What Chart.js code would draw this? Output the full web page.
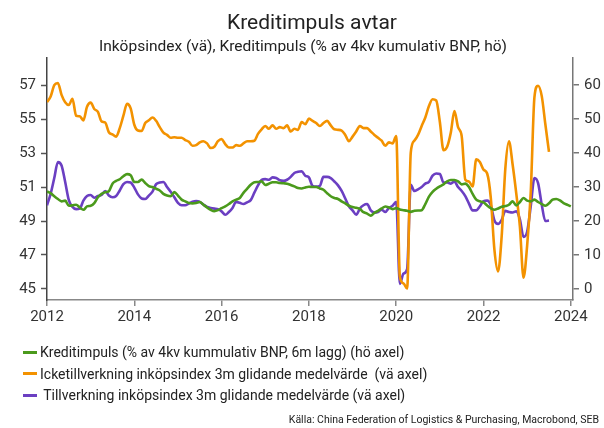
<!DOCTYPE html>
<html>
<head>
<meta charset="utf-8">
<script src="https://cdn.jsdelivr.net/npm/chart.js@4.4.0/dist/chart.umd.min.js"></script>
<style>
  body { margin: 0; background: #fff; font-family: Roboto, sans-serif; color: #222; }
  #wrap { position: relative; width: 604px; height: 428px; }
  #c { position: absolute; left: 0; top: 0; }
  .title { position: absolute; top: 9px; left: 312px; transform: translateX(-50%); font-size: 21px; line-height: 26px; white-space: nowrap; }
  .subtitle { position: absolute; top: 37px; left: 303px; transform: translateX(-50%); font-size: 15.5px; line-height: 18px; white-space: nowrap; }
  .legend { position: absolute; left: 23px; top: 342px; font-size: 14px; }
  .legend div { height: 21.6px; line-height: 21px; white-space: pre; }
  .legend span { display: inline-block; width: 14px; height: 3px; vertical-align: middle; margin-right: 3px; position: relative; top: -1px; }
  .source { position: absolute; right: 5px; top: 413px; font-size: 10.5px; line-height: 13px; white-space: nowrap; }
</style>
</head>
<body>
<div id="wrap">
  <canvas id="c" width="604" height="428"></canvas>
  <div class="title">Kreditimpuls avtar</div>
  <div class="subtitle">Inköpsindex (vä), Kreditimpuls (% av 4kv kumulativ BNP, hö)</div>
  <div class="legend" id="legend"></div>
  <div class="source">Källa: China Federation of Logistics &amp; Purchasing, Macrobond, SEB</div>
</div>
<script>
// monthly, first value = Jan 2012
const startYear = 2012;

const seriesNames = [
    'Kreditimpuls (% av 4kv kummulativ BNP, 6m lagg) (hö axel)',
    'Icketillverkning inköpsindex 3m glidande medelvärde  (vä axel)',
    ' Tillverkning inköpsindex 3m glidande medelvärde (vä axel)'
];
const seriesColors = ['#4b9a1c', '#f39200', '#6b3fc2'];

// Kreditimpuls, right axis
const kreditimpuls = [
    28.7, 28.2, 27.3, 26.5, 25.8, 26.0, 24.5, 24.6, 24.8, 24.0, 23.3, 24.3,
    24.5, 25.3, 27.0, 28.0, 28.5, 28.8, 31.0, 31.8, 32.3, 33.2, 33.8, 33.5,
    31.5, 31.5, 32.2, 31.2, 30.3, 30.0, 29.5, 29.0, 28.0, 27.5, 27.3, 28.5,
    27.5, 26.3, 25.8, 25.3, 25.2, 25.3, 25.6, 24.8, 24.0, 23.3, 22.9, 23.2,
    23.8, 24.3, 25.0, 25.8, 26.3, 26.8, 28.3, 29.5, 30.7, 31.4, 31.5, 31.7,
    30.6, 31.0, 31.4, 31.4, 31.2, 31.1, 31.0, 30.6, 30.2, 29.7, 29.6, 29.9,
    30.1, 30.0, 30.0, 29.6, 29.2, 28.2, 27.3, 26.8, 26.5, 25.8, 25.2, 24.5,
    24.1, 23.9, 23.6, 22.6, 22.2, 21.6, 22.4, 23.0, 23.7, 24.3, 24.0, 23.5,
    23.8, 23.4, 23.2, 23.0, 22.7, 23.0, 23.1, 23.2, 25.0, 27.2, 28.6, 29.5,
    30.2, 30.8, 31.7, 32.1, 32.1, 31.7, 30.8, 31.0, 30.0, 28.0, 26.3, 25.8,
    25.5, 24.6, 23.8, 23.3, 23.7, 24.2, 24.4, 24.8, 25.8, 24.6, 25.6, 26.8,
    26.0, 25.8, 26.3, 25.6, 25.0, 24.5, 25.2, 26.3, 26.5, 26.1, 25.3, 24.8,
    24.3
];

// Icketillverkning PMI 3m avg, left axis
const icketillverkning = [
    56.0, 56.33, 57.0, 57.13, 56.43, 56.0, 55.83, 56.2, 55.2, 55.17, 54.93, 55.73,
    55.97, 55.6, 55.43, 54.87, 54.8, 54.23, 54.1, 53.97, 54.47, 55.2, 55.9, 55.63,
    54.67, 54.33, 54.3, 54.77, 54.93, 55.1, 54.9, 54.53, 54.2, 54.07, 53.9, 53.93,
    53.9, 53.9, 53.77, 53.67, 53.43, 53.47, 53.63, 53.7, 53.57, 53.3, 53.37, 53.7,
    53.83, 53.53, 53.33, 53.33, 53.47, 53.43, 53.57, 53.7, 53.7, 53.73, 54.13, 54.4,
    54.6, 54.43, 54.63, 54.43, 54.53, 54.47, 54.63, 54.27, 54.43, 54.37, 54.83, 54.7,
    55.03, 54.9, 54.77, 54.6, 54.77, 54.9, 54.63, 54.4, 54.37, 54.33, 54.07, 53.7,
    53.97, 54.27, 54.6, 54.47, 54.47, 54.27, 54.07, 53.9, 53.73, 53.43, 53.63, 53.57,
    54.0, 45.73, 45.33, 45.03, 53.03, 53.73, 54.07, 54.6, 55.1, 55.77, 56.17, 56.1,
    54.83, 53.17, 53.37, 54.2, 55.47, 54.53, 54.0, 51.43, 51.33, 51.03, 52.63, 52.47,
    52.03, 51.8, 50.37, 47.3, 46.03, 48.13, 52.1, 53.7, 52.33, 50.63, 48.67, 45.67,
    47.57, 50.77, 56.3, 56.97, 56.37, 54.7, 53.07
];

// Tillverkning PMI 3m avg, left axis
const tillverkning = [
    49.93, 50.6, 51.53, 52.47, 52.27, 51.3, 50.23, 49.83, 49.7, 49.73, 50.2, 50.47,
    50.53, 50.37, 50.47, 50.53, 50.77, 50.5, 50.4, 50.47, 50.8, 51.17, 51.3, 51.27,
    50.97, 50.57, 50.33, 50.3, 50.5, 50.73, 51.17, 51.27, 51.3, 51.0, 50.73, 50.4,
    50.07, 49.93, 49.93, 50.03, 50.13, 50.17, 50.13, 49.97, 49.83, 49.77, 49.73, 49.7,
    49.57, 49.37, 49.53, 49.77, 50.13, 50.07, 50.0, 50.1, 50.23, 50.67, 51.1, 51.43,
    51.47, 51.43, 51.57, 51.53, 51.4, 51.37, 51.43, 51.6, 51.83, 51.9, 51.93, 51.67,
    51.57, 51.07, 51.03, 51.07, 51.6, 51.6, 51.53, 51.33, 51.1, 50.77, 50.33, 49.87,
    49.63, 49.37, 49.73, 49.93, 50.0, 49.63, 49.5, 49.53, 49.67, 49.53, 49.77, 49.9,
    50.13, 45.3, 45.9, 46.17, 51.13, 50.77, 50.87, 51.0, 51.2, 51.3, 51.67, 51.8,
    51.77, 51.27, 51.27, 51.2, 51.33, 51.0, 50.77, 50.47, 50.03, 49.63, 49.63, 49.87,
    50.17, 50.2, 49.93, 49.03, 48.83, 49.07, 49.6, 49.53, 49.5, 49.57, 49.1, 48.07,
    48.37, 49.9, 51.53, 51.23, 49.97, 49.0, 49.03
];

const xTicks = [2012, 2014, 2016, 2018, 2020, 2022, 2024];
const leftTicks = [45, 46, 47, 48, 49, 50, 51, 52, 53, 54, 55, 56, 57, 58];
const leftLabels = [45, 47, 49, 51, 53, 55, 57];
const rightTicks = [0, 5, 10, 15, 20, 25, 30, 35, 40, 45, 50, 55, 60, 65];
const rightLabels = [0, 10, 20, 30, 40, 50, 60];

function monthly(arr) {
    return arr.map((v, i) => ({ x: startYear + i / 12, y: v }));
}

Chart.defaults.font.family = 'Roboto';
Chart.defaults.font.size = 15;
Chart.defaults.color = '#333';

const datasets = [kreditimpuls, icketillverkning, tillverkning].map((arr, i) => ({
    label: seriesNames[i],
    data: monthly(arr),
    yAxisID: i === 0 ? 'y2' : 'y',
    borderColor: seriesColors[i],
    backgroundColor: seriesColors[i],
    borderWidth: 2.6,
    pointRadius: 0,
    cubicInterpolationMode: 'monotone'
}));

const ctx = document.getElementById('c').getContext('2d');
const chart = new Chart(ctx, {
    type: 'line',
    data: { datasets: datasets },
    options: {
        responsive: false,
        animation: false,
        layout: { padding: { top: 58, bottom: 98, left: 0, right: 0 } },
        plugins: {
            legend: { display: false },
            tooltip: { enabled: false }
        },
        scales: {
            x: {
                type: 'linear',
                min: 2012,
                max: 2024.05,
                afterBuildTicks: (s) => { s.ticks = xTicks.map(v => ({ value: v })); },
                afterFit: (s) => { s.height = 30; },
                ticks: { padding: 2, maxRotation: 0, callback: (v) => String(v) },
                grid: { drawOnChartArea: false, tickLength: 6, color: '#888', lineWidth: 1.5 },
                border: { color: '#888', width: 1.5 }
            },
            y: {
                position: 'left',
                min: 44.35,
                max: 58.6,
                afterBuildTicks: (s) => { s.ticks = leftTicks.map(v => ({ value: v })); },
                afterFit: (s) => { s.width = 47; },
                ticks: { padding: 5, callback: (v) => leftLabels.includes(v) ? String(v) : '' },
                grid: {
                    tickLength: 6,
                    tickColor: '#555',
                    tickWidth: 1.5,
                    color: (c) => c.tick && c.tick.value === 50 ? '#333' : 'rgba(0,0,0,0)',
                    lineWidth: 1
                },
                border: { color: '#444', width: 1.5 }
            },
            y2: {
                position: 'right',
                min: -3.25,
                max: 68,
                afterBuildTicks: (s) => { s.ticks = rightTicks.map(v => ({ value: v })); },
                afterFit: (s) => { s.width = 31; },
                ticks: { padding: 5, callback: (v) => rightLabels.includes(v) ? String(v) : '' },
                grid: { drawOnChartArea: false, tickLength: 6, color: '#777', lineWidth: 1.5 },
                border: { color: '#777', width: 1.5 }
            }
        }
    }
});

const legend = document.getElementById('legend');
seriesNames.forEach((name, i) => {
    const row = document.createElement('div');
    const sw = document.createElement('span');
    sw.style.background = seriesColors[i];
    row.appendChild(sw);
    row.appendChild(document.createTextNode(name));
    legend.appendChild(row);
});
</script>
</body>
</html>
